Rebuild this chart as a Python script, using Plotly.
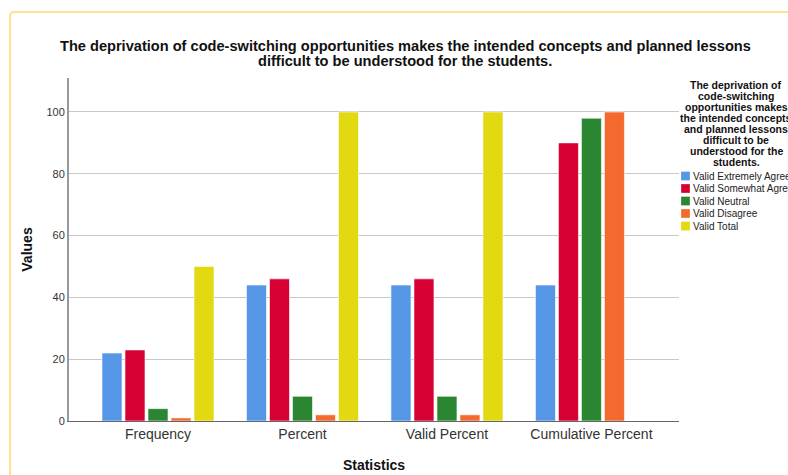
import plotly.graph_objects as go

categories = ["Frequency", "Percent", "Valid Percent", "Cumulative Percent"]
series_names = ["Valid Extremely Agree", "Valid Somewhat Agree", "Valid Neutral",
                "Valid Disagree", "Valid Total"]
extremely_agree = [22, 44, 44, 44]
somewhat_agree = [23, 46, 46, 90]
neutral = [4, 8, 8, 98]
disagree = [1, 2, 2, 100]
total = [50, 100, 100, None]
series_values = [extremely_agree, somewhat_agree, neutral, disagree, total]
colors = ["#5596E6", "#D70033", "#2A8630", "#F46A2E", "#E2D911"]
y_ticks = [0, 20, 40, 60, 80, 100]
title_lines = ["The deprivation of code-switching opportunities makes the intended concepts and planned lessons",
               "difficult to be understood for the students."]
legend_title_lines = ["The deprivation of", "code-switching", "opportunities makes",
                      "the intended concepts", "and planned lessons", "difficult to be",
                      "understood for the", "students."]

FONT = "Liberation Sans, Arial, sans-serif"

fig = go.Figure()
for name, vals, col in zip(series_names, series_values, colors):
    fig.add_trace(go.Bar(
        x=categories, y=vals, name=name,
        marker=dict(color=col, line=dict(color="rgba(255,255,255,0.6)", width=1)),
    ))

W, H = 788, 475
L, R, T, B = 69, 109, 78, 54
PW, PH = W - L - R, H - T - B


def px(x):
    return (x - L) / PW


def py(y):
    return (H - B - y) / PH


fig.update_layout(
    width=W, height=H,
    margin=dict(l=L, r=R, t=T, b=B, autoexpand=False),
    paper_bgcolor="white", plot_bgcolor="white",
    font=dict(family=FONT, color="#222"),
    barmode="group", bargap=0.204, bargroupgap=0.13,
    showlegend=False,
    xaxis=dict(
        range=[-0.616, 3.606],
        showline=True, linecolor="#666", linewidth=1,
        ticks="", tickfont=dict(size=14, family=FONT, color="#333"),
        title=dict(text="<b>Statistics</b>", font=dict(size=14, family=FONT, color="#111"), standoff=19),
        showgrid=False, zeroline=False,
    ),
    yaxis=dict(
        range=[0, 111],
        tickvals=y_ticks,
        showline=True, linecolor="#999", linewidth=2,
        ticks="", tickfont=dict(size=11, family=FONT, color="#333"),
        showgrid=True, gridcolor="#C8C8C8", gridwidth=1,
        zeroline=False,
        title=dict(text="<b>Values</b>", font=dict(size=14, family=FONT, color="#111"), standoff=11),
    ),
)

# Title
for i, line in enumerate(title_lines):
    fig.add_annotation(
        text="<b>" + line + "</b>", xref="paper", yref="paper",
        x=px(405), y=py(46 + 15 * i), xanchor="center", yanchor="middle",
        showarrow=False, font=dict(size=14.6, family=FONT, color="#111"),
    )

# Legend title
for i, line in enumerate(legend_title_lines):
    fig.add_annotation(
        text="<b>" + line + "</b>", xref="paper", yref="paper",
        x=px(736), y=py(85 + 11 * i), xanchor="center", yanchor="middle",
        showarrow=False, font=dict(size=10.5, family=FONT, color="#111"),
    )

# Legend items
for i, (name, col) in enumerate(zip(series_names, colors)):
    yc = 176 + 12.5 * i
    fig.add_shape(type="rect", xref="paper", yref="paper",
                  x0=px(681), x1=px(690), y0=py(yc + 4.5), y1=py(yc - 4.5),
                  fillcolor=col, line=dict(color="rgba(255,255,255,0.6)", width=0.5))
    fig.add_annotation(
        text=name, xref="paper", yref="paper",
        x=px(691), y=py(yc), xanchor="left", yanchor="middle",
        showarrow=False, font=dict(size=10, family=FONT, color="#222"),
    )

# Yellow frame
fig.add_shape(
    type="path", xref="paper", yref="paper",
    path="M {x0},{y1} L {x0},{y0} Q {x0},{y0b} {x0b},{y0b} L {x2},{y0b}".format(
        x0=px(10), y1=py(480), y0=py(16), y0b=py(12), x0b=px(14), x2=px(800)),
    line=dict(color="#FFE38A", width=2),
)

fig.write_html("out.html")
